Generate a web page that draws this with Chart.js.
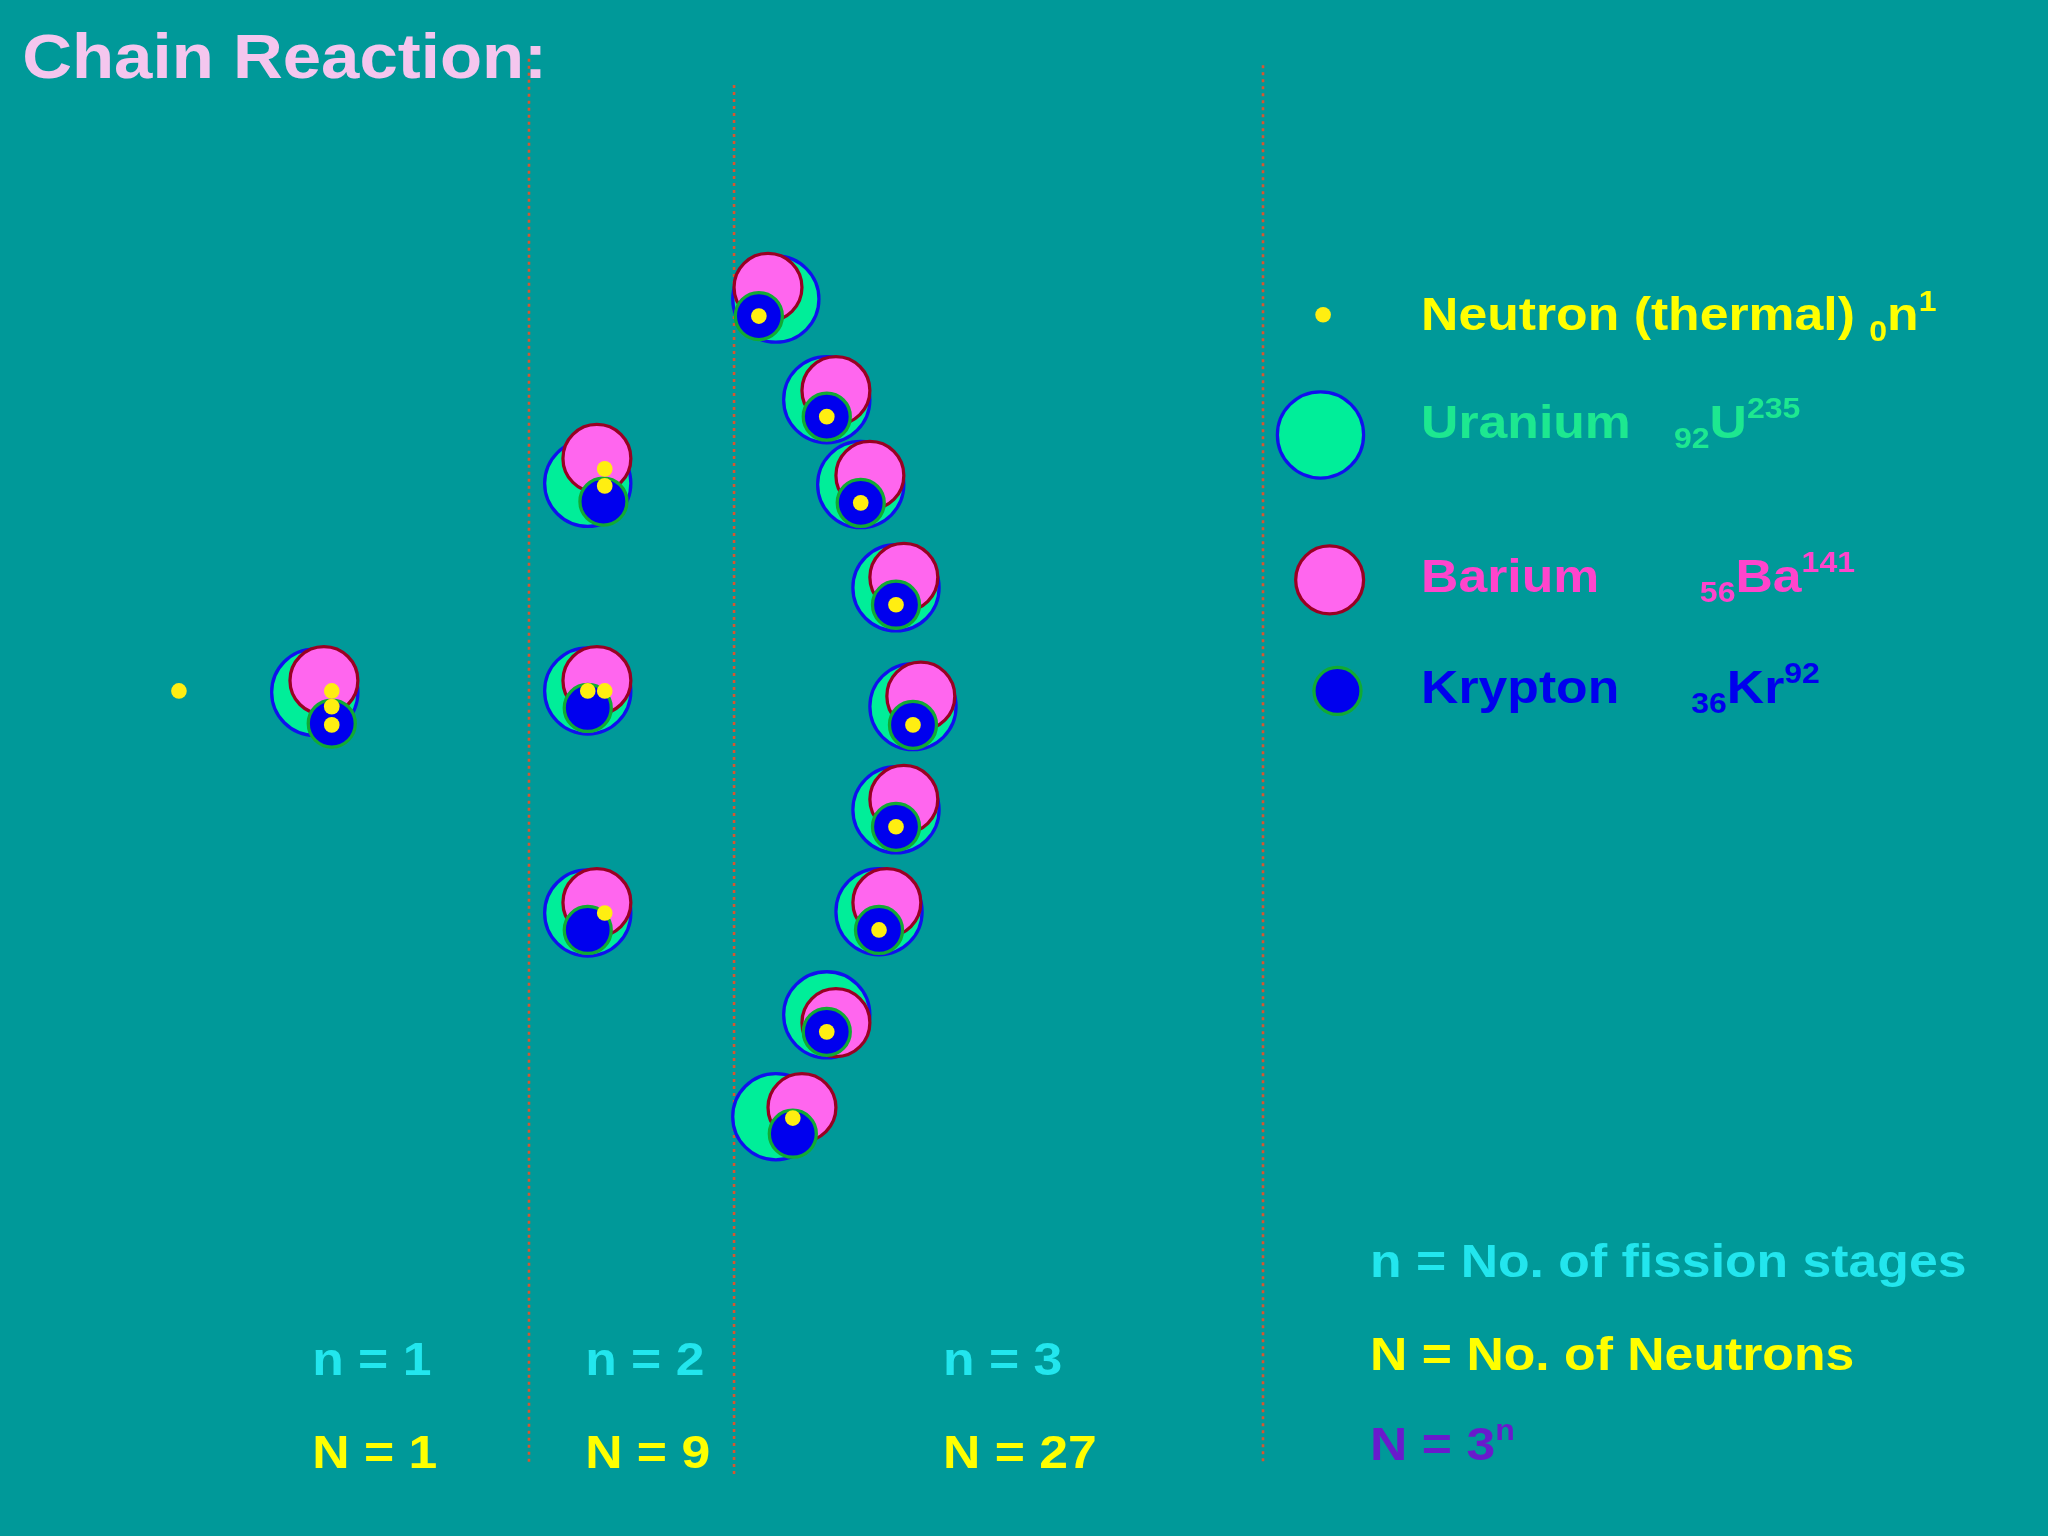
<!DOCTYPE html>
<html>
<head>
<meta charset="utf-8">
<script src="https://cdn.jsdelivr.net/npm/chart.js@4.4.1/dist/chart.umd.min.js"></script>
<style>
  html, body { margin: 0; padding: 0; background: #009999; }
  #wrap { width: 2048px; height: 1536px; }
</style>
</head>
<body>
<div id="wrap"><canvas id="c"></canvas></div>
<script>
// reference picture coordinates (1568 x 1176 units)
const uranium = [
  {x:241,y:530},{x:450,y:370},{x:450,y:529},{x:450,y:699},
  {x:594,y:229},{x:633,y:306},{x:659,y:371},{x:686,y:450},{x:699,y:541},
  {x:686,y:620},{x:673,y:698},{x:633,y:777},{x:594,y:855},{x:1011,y:333}
]
const barium = [
  {x:248,y:521},{x:457,y:351},{x:457,y:521},{x:457,y:691},
  {x:588,y:220},{x:640,y:299},{x:666,y:364},{x:692,y:442},{x:705,y:533},
  {x:692,y:612},{x:679,y:691},{x:640,y:783},{x:614,y:848},{x:1018,y:444}
]
const krypton = [
  {x:254,y:554},{x:462,y:384},{x:450,y:542},{x:450,y:712},
  {x:581,y:242},{x:633,y:319},{x:659,y:385},{x:686,y:463},{x:699,y:555},
  {x:686,y:633},{x:673,y:712},{x:633,y:790},{x:607,y:868},{x:1024,y:529}
]
const neutrons = [
  {x:137,y:529},{x:254,y:529},{x:254,y:541},{x:254,y:555},
  {x:463,y:359},{x:463,y:372},{x:450,y:529},{x:463,y:529},{x:463,y:699},
  {x:581,y:242},{x:633,y:319},{x:659,y:385},{x:686,y:463},{x:699,y:555},
  {x:686,y:633},{x:673,y:712},{x:633,y:790},{x:607,y:856},{x:1013,y:241}
]
const dividers = [
  [{x:405,y:45},{x:405,y:1120}],
  [{x:562,y:65},{x:562,y:1130}],
  [{x:967,y:50},{x:967,y:1120}]
]
const stageLabels = [
  {x:239, n:"n = 1", N:"N = 1"},
  {x:448, n:"n = 2", N:"N = 9"},
  {x:722, n:"n = 3", N:"N = 27"}
]

const W = 1568, H = 1176
const k = c => c.chart.width / W

function circles(data, fill, border, r, bw, order){
  return {type:'bubble', data, backgroundColor:fill, borderColor:border,
    borderWidth: c => bw*k(c), radius: c => r*k(c), hoverRadius:0, order}
}

// draw a run of pieces: [text, "n"|"sub"|"sup"], slightly widened
function runText(ctx, chart, x, y, size, color, parts){
  const f = chart.width / W
  const stretch = 1.1
  const px0 = chart.scales.x.getPixelForValue(x)
  const py = chart.scales.y.getPixelForValue(y)
  ctx.save()
  ctx.translate(px0, py)
  ctx.scale(stretch, 1)
  ctx.fillStyle = color
  let px = 0
  parts.forEach(([t, m]) => {
    const s = m === 'n' ? size : size*0.62
    const dy = m === 'sub' ? size*0.22 : m === 'sup' ? -size*0.42 : 0
    ctx.font = 'bold ' + (s*f) + 'px Arial, "Liberation Sans", sans-serif'
    ctx.fillText(t, px, dy*f)
    px += ctx.measureText(t).width
  })
  ctx.restore()
}

const textPlugin = {
  id:'texts',
  afterDraw(chart){
    const ctx = chart.ctx
    ctx.save()
    ctx.textBaseline = 'alphabetic'
    runText(ctx, chart, 17, 60, 48, '#f4c6ee', [["Chain Reaction:", 'n']])
    runText(ctx, chart, 1088, 253, 36, '#ffff00', [["Neutron (thermal) ", 'n'], ["0",'sub'], ["n",'n'], ["1",'sup']])
    runText(ctx, chart, 1088, 335, 36, '#1de890', [["Uranium   ", 'n'], ["92",'sub'], ["U",'n'], ["235",'sup']])
    runText(ctx, chart, 1088, 453, 36, '#ff44cc', [["Barium       ", 'n'], ["56",'sub'], ["Ba",'n'], ["141",'sup']])
    runText(ctx, chart, 1088, 538, 36, '#0000ee', [["Krypton     ", 'n'], ["36",'sub'], ["Kr",'n'], ["92",'sup']])
    stageLabels.forEach(s => {
      runText(ctx, chart, s.x, 1053, 36, '#22e6ee', [[s.n,'n']])
      runText(ctx, chart, s.x, 1124, 36, '#ffff00', [[s.N,'n']])
    })
    runText(ctx, chart, 1049, 978, 36, '#22e6ee', [["n = No. of fission stages",'n']])
    runText(ctx, chart, 1049, 1049, 36, '#ffff00', [["N = No. of Neutrons",'n']])
    runText(ctx, chart, 1049, 1118, 36, '#6a1acc', [["N = 3",'n'], ["n",'sup']])
    ctx.restore()
  }
}

const lineSets = dividers.map(d => ({
  type:'line', data:d, borderColor:'#d85530', borderWidth: c => 2*k(c),
  borderDash:[3,4], pointRadius:0, order:10
}))

new Chart(document.getElementById('c'), {
  data:{ datasets:[
    ...lineSets,
    circles(uranium, '#00ee99', '#1010ee', 33, 2.5, 4),
    circles(barium, '#ff66ee', '#990022', 26, 2.5, 3),
    circles(krypton, '#0000ee', '#11aa33', 18, 2.5, 2),
    circles(neutrons, '#ffee11', '#ffee11', 6, 0, 1)
  ]},
  options:{
    responsive:true, maintainAspectRatio:false, animation:false,
    layout:{padding:0, autoPadding:false},
    plugins:{legend:{display:false}, tooltip:{enabled:false}},
    scales:{
      x:{type:'linear', min:0, max:W, display:false},
      y:{type:'linear', min:0, max:H, reverse:true, display:false}
    }
  },
  plugins:[textPlugin]
})
</script>
</body>
</html>
